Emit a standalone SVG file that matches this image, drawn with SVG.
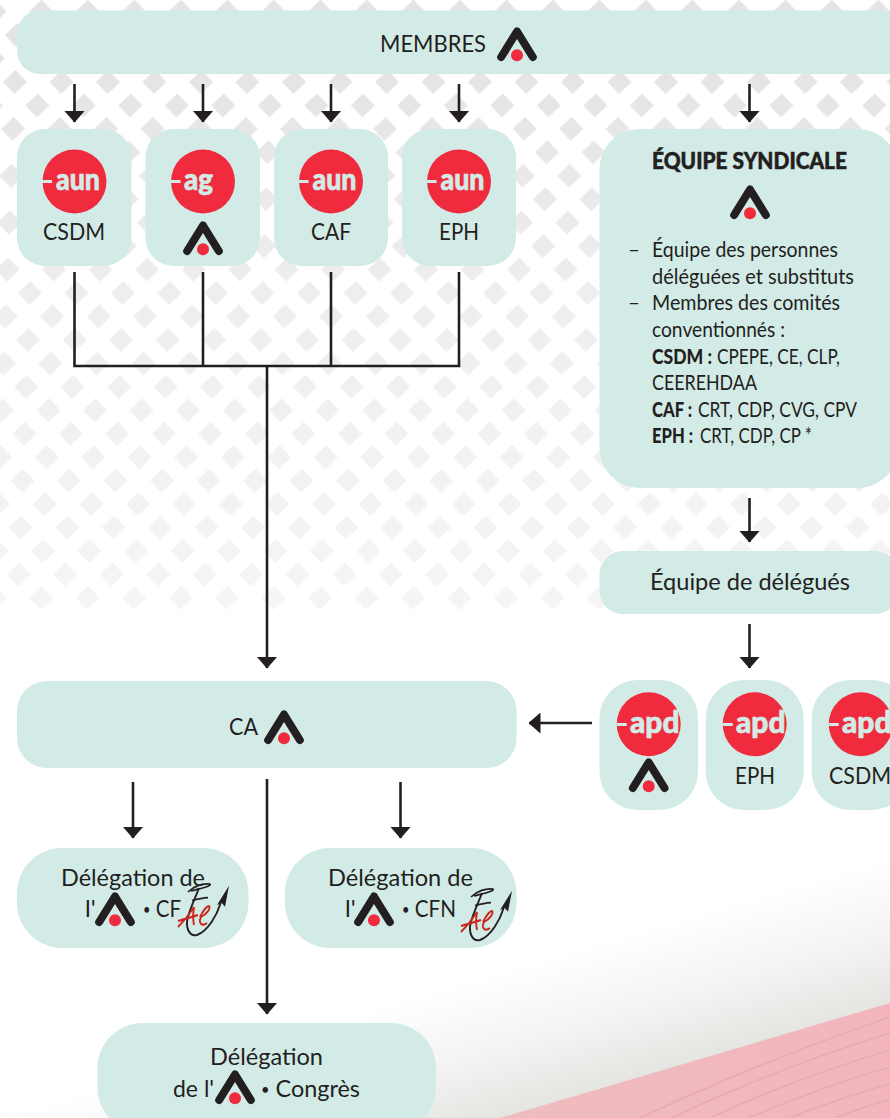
<svg xmlns="http://www.w3.org/2000/svg" width="890" height="1118" viewBox="0 0 890 1118">
<style>
.box{fill:#d3ebe7}
.t{font-family:"Lato","Noto Sans",sans-serif;font-size:22.500px;fill:#231f20}
.l{font-size:20.500px}
.d{font-size:24px}
.b{font-weight:900}
.bul{font-size:15px}
.badge{font-family:"Lato","Noto Sans",sans-serif;font-weight:900;fill:#d3ebe7;stroke:#d3ebe7;stroke-width:.7;font-size:31px}
.c{fill:none;stroke:#231f20;stroke-width:2.6}
.red{fill:#ef2b3d}
.dash{fill:#d3ebe7}
.streak{fill:none;stroke:#e6abb2;stroke-width:1.6}
</style>
<defs>
<pattern id="dia" width="46.5" height="46.9" patternUnits="userSpaceOnUse" patternTransform="translate(15 82) skewX(-2.26)">
<path d="M0-12 12 0 0 12-12 0Z M46.500-12 58.500 0 46.500 12 34.500 0Z M0 34.900 12 46.900 0 58.900-12 46.900Z M46.500 34.900 58.500 46.900 46.500 58.900 34.500 46.900Z M23.250 11.450 35.250 23.450 23.250 35.450 11.250 23.450Z" fill="#e4e4e4"/>
</pattern>
<linearGradient id="fade" gradientUnits="userSpaceOnUse" x1="0" y1="60" x2="0" y2="610">
<stop offset="0" stop-color="#fff" stop-opacity="0"/>
<stop offset=".45" stop-color="#fff" stop-opacity=".38"/>
<stop offset="1" stop-color="#fff" stop-opacity=".64"/>
</linearGradient>
<linearGradient id="grey" gradientUnits="userSpaceOnUse" x1="700" y1="1062" x2="660" y2="925">
<stop offset="0" stop-color="#e4e4e1"/>
<stop offset=".5" stop-color="#f4f4f3"/>
<stop offset="1" stop-color="#fff"/>
</linearGradient>
<linearGradient id="pink" gradientUnits="userSpaceOnUse" x1="500" y1="1118" x2="890" y2="1118">
<stop offset="0" stop-color="#eebcbf"/>
<stop offset="1" stop-color="#f3b5bd"/>
</linearGradient>
<marker id="arrow" markerUnits="userSpaceOnUse" viewBox="0 0 12 21" markerWidth="12" markerHeight="21" refX="11.500" refY="10.500" orient="auto">
<path d="M0 0 12 10.500 0 21Z" fill="#231f20"/>
</marker>
<g id="logo">
<path d="M-15.800 30 0 4.500 15.800 30" fill="none" stroke="#231f20" stroke-width="8" stroke-linecap="round" stroke-linejoin="round"/>
<circle cx="0" cy="28.300" r="6" class="red"/>
</g>
<g id="fae">
<path d="M50.700 28C47 40 38 56 27 60C19 62 15 52 18 42C20 34 24 26 29 13" fill="none" stroke="#231f20" stroke-width="1.900"/>
<path d="M59 10.700 47 30 51.700 28 55 31.700Z" fill="#231f20"/>
<path d="M18 17C24 11 33 8 40 9C42 11 32 13 21 16M22 25.500C28 24 33 23 38 22.700" fill="none" stroke="#231f20" stroke-width="1.700"/>
<path d="M8 52C14 46 19 40 24 32C23 38 23 45 24 50M8 46C15 44 22 42 28 40M30 42C33 36 37 31 39 31C41 33 37 39 31 42C28 48 32 52 37 48" fill="none" stroke="#c8281e" stroke-width="1.900"/>
</g>
</defs>

<g id="background">
<rect width="890" height="1118" fill="#fff"/>
<rect width="890" height="610" fill="url(#dia)"/>
<rect width="890" height="610" fill="url(#fade)"/>
<rect y="800" width="890" height="318" fill="url(#grey)"/>
<path d="M500 1118 890 1003V1118Z" fill="url(#pink)"/>
<path class="streak" d="M640 1118C720 1080 810 1045 890 1017M672 1118C740 1085 820 1055 890 1033M710 1118C770 1090 830 1068 890 1050M748 1118C795 1098 845 1080 890 1067M790 1118C825 1104 860 1092 890 1084M835 1118C855 1110 872 1104 890 1100"/>
</g>

<g id="connectors">
<path class="c" marker-end="url(#arrow)" d="M74.500 84V122"/>
<path class="c" marker-end="url(#arrow)" d="M203 84V122"/>
<path class="c" marker-end="url(#arrow)" d="M331 84V122"/>
<path class="c" marker-end="url(#arrow)" d="M459 84V122"/>
<path class="c" marker-end="url(#arrow)" d="M749.500 84V122"/>
<path class="c" d="M74.500 272V366M203 272V366M331 272V366M459 272V366M73.200 366H460.300"/>
<path class="c" marker-end="url(#arrow)" d="M267 366V668"/>
<path class="c" marker-end="url(#arrow)" d="M749.500 498V542"/>
<path class="c" marker-end="url(#arrow)" d="M749.500 624V668"/>
<path class="c" marker-end="url(#arrow)" d="M592 723H529"/>
<path class="c" marker-end="url(#arrow)" d="M133 782V838"/>
<path class="c" marker-end="url(#arrow)" d="M400.500 782V838"/>
<path class="c" marker-end="url(#arrow)" d="M267 779V1014"/>
</g>

<g id="membres">
<rect class="box" x="17" y="10.500" width="900" height="63.500" rx="23"/>
<text class="t" x="380" y="52" textLength="106" lengthAdjust="spacingAndGlyphs">MEMBRES</text>
<use href="#logo" x="517" y="27"/>
</g>

<g id="aun-csdm">
<rect class="box" x="17" y="129" width="114.500" height="137" rx="28"/>
<circle class="red" cx="74.500" cy="181.500" r="32"/>
<rect class="dash" x="42" y="180" width="10" height="3"/>
<text class="badge" x="56" y="190" textLength="44" lengthAdjust="spacingAndGlyphs">aun</text>
<text class="t" x="43" y="240" textLength="62" lengthAdjust="spacingAndGlyphs">CSDM</text>
</g>
<g id="ag">
<rect class="box" x="145.500" y="129" width="114.500" height="137" rx="28"/>
<circle class="red" cx="203" cy="181.500" r="32"/>
<rect class="dash" x="170.500" y="180" width="10" height="3"/>
<text class="badge" x="184" y="190" textLength="29" lengthAdjust="spacingAndGlyphs">ag</text>
<use href="#logo" x="203" y="221"/>
</g>
<g id="aun-caf">
<rect class="box" x="274" y="129" width="114" height="137" rx="28"/>
<circle class="red" cx="331" cy="181.500" r="32"/>
<rect class="dash" x="298.500" y="180" width="10" height="3"/>
<text class="badge" x="312.500" y="190" textLength="44" lengthAdjust="spacingAndGlyphs">aun</text>
<text class="t" x="311" y="240" textLength="40" lengthAdjust="spacingAndGlyphs">CAF</text>
</g>
<g id="aun-eph">
<rect class="box" x="402" y="129" width="114" height="137" rx="28"/>
<circle class="red" cx="459" cy="181.500" r="32"/>
<rect class="dash" x="426.500" y="180" width="10" height="3"/>
<text class="badge" x="440.500" y="190" textLength="44" lengthAdjust="spacingAndGlyphs">aun</text>
<text class="t" x="439" y="240" textLength="40" lengthAdjust="spacingAndGlyphs">EPH</text>
</g>

<g id="equipe-syndicale">
<rect class="box" x="599.500" y="129" width="298.500" height="359" rx="40"/>
<text class="t" x="652" y="169" style="font-weight:900;font-size:22px;stroke:#231f20;stroke-width:.5" textLength="195" lengthAdjust="spacingAndGlyphs">ÉQUIPE SYNDICALE</text>
<use href="#logo" x="750" y="185"/>
<text class="t l" x="628" y="257" textLength="12" lengthAdjust="spacingAndGlyphs">–</text>
<text class="t l" x="652" y="257" textLength="186" lengthAdjust="spacingAndGlyphs">Équipe des personnes</text>
<text class="t l" x="652" y="284" textLength="202" lengthAdjust="spacingAndGlyphs">déléguées et substituts</text>
<text class="t l" x="628" y="310" textLength="12" lengthAdjust="spacingAndGlyphs">–</text>
<text class="t l" x="652" y="310" textLength="188" lengthAdjust="spacingAndGlyphs">Membres des comités</text>
<text class="t l" x="652" y="337" textLength="133" lengthAdjust="spacingAndGlyphs">conventionnés :</text>
<text class="t l" y="364"><tspan class="b" x="652" textLength="60" lengthAdjust="spacingAndGlyphs">CSDM :</tspan><tspan x="717" textLength="123" lengthAdjust="spacingAndGlyphs">CPEPE, CE, CLP,</tspan></text>
<text class="t l" x="652" y="390" textLength="105" lengthAdjust="spacingAndGlyphs">CEEREHDAA</text>
<text class="t l" y="417"><tspan class="b" x="652" textLength="40" lengthAdjust="spacingAndGlyphs">CAF :</tspan><tspan x="698" textLength="159" lengthAdjust="spacingAndGlyphs">CRT, CDP, CVG, CPV</tspan></text>
<text class="t l" y="443"><tspan class="b" x="652" textLength="41" lengthAdjust="spacingAndGlyphs">EPH :</tspan><tspan x="700" textLength="112" lengthAdjust="spacingAndGlyphs">CRT, CDP, CP *</tspan></text>
</g>

<g id="equipe-delegues">
<rect class="box" x="599.500" y="551" width="298.500" height="63" rx="23"/>
<text class="t d" x="650" y="590" textLength="200" lengthAdjust="spacingAndGlyphs">Équipe de délégués</text>
</g>

<g id="apd-a">
<rect class="box" x="599.500" y="680" width="98.500" height="130" rx="38"/>
<circle class="red" cx="648.700" cy="724.300" r="32"/>
<rect class="dash" x="616.700" y="723" width="10" height="3"/>
<text class="badge" x="630" y="733" textLength="49.500" lengthAdjust="spacingAndGlyphs">apd</text>
<use href="#logo" x="648.700" y="758"/>
</g>
<g id="apd-eph">
<rect class="box" x="705.700" y="680" width="98" height="130" rx="38"/>
<circle class="red" cx="754.700" cy="724.300" r="32"/>
<rect class="dash" x="722.700" y="723" width="10" height="3"/>
<text class="badge" x="736" y="733" textLength="49.500" lengthAdjust="spacingAndGlyphs">apd</text>
<text class="t" x="735" y="784" textLength="40" lengthAdjust="spacingAndGlyphs">EPH</text>
</g>
<g id="apd-csdm">
<rect class="box" x="811.700" y="680" width="98" height="130" rx="38"/>
<circle class="red" cx="860.700" cy="724.300" r="32"/>
<rect class="dash" x="828.700" y="723" width="10" height="3"/>
<text class="badge" x="842" y="733" textLength="49.500" lengthAdjust="spacingAndGlyphs">apd</text>
<text class="t" x="829" y="784" textLength="62" lengthAdjust="spacingAndGlyphs">CSDM</text>
</g>

<g id="ca">
<rect class="box" x="17" y="681" width="499.500" height="87" rx="30"/>
<text class="t" x="229" y="735" textLength="29" lengthAdjust="spacingAndGlyphs">CA</text>
<use href="#logo" x="284" y="710"/>
</g>

<g id="delegation-cf">
<rect class="box" x="17" y="848" width="231.500" height="100" rx="45"/>
<text class="t d" x="61" y="886" textLength="144" lengthAdjust="spacingAndGlyphs">Délégation de</text>
<text class="t d" x="85" y="917">l'</text>
<use href="#logo" x="115" y="892"/>
<text class="t d" x="143" y="917" textLength="38" lengthAdjust="spacingAndGlyphs"><tspan class="bul" dy="-2">•</tspan><tspan dy="2"> CF</tspan></text>
<use href="#fae" x="170" y="875"/>
</g>
<g id="delegation-cfn">
<rect class="box" x="285" y="848" width="231.500" height="100" rx="45"/>
<text class="t d" x="328" y="886" textLength="145" lengthAdjust="spacingAndGlyphs">Délégation de</text>
<text class="t d" x="345" y="917">l'</text>
<use href="#logo" x="374" y="892"/>
<text class="t d" x="402" y="917" textLength="54" lengthAdjust="spacingAndGlyphs"><tspan class="bul" dy="-2">•</tspan><tspan dy="2"> CFN</tspan></text>
<use href="#fae" x="453" y="880"/>
</g>
<g id="delegation-congres">
<rect class="box" x="97.500" y="1023" width="338.500" height="110" rx="45"/>
<text class="t d" x="210" y="1065" textLength="113" lengthAdjust="spacingAndGlyphs">Délégation</text>
<text class="t d" x="173" y="1097" textLength="41" lengthAdjust="spacingAndGlyphs">de l'</text>
<use href="#logo" x="235" y="1070"/>
<text class="t d" x="261" y="1097" textLength="99" lengthAdjust="spacingAndGlyphs"><tspan class="bul" dy="-2">•</tspan><tspan dy="2"> Congrès</tspan></text>
</g>
</svg>
